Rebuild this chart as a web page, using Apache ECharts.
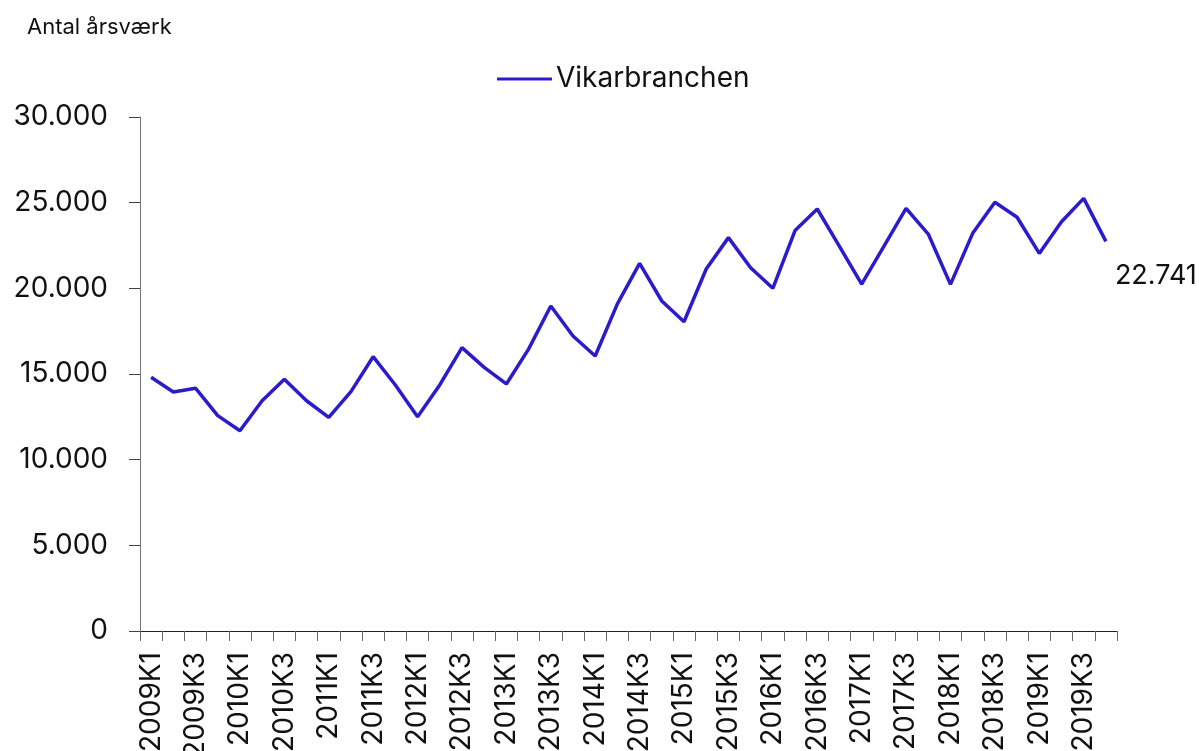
<!DOCTYPE html>
<html>
<head>
<meta charset="utf-8">
<script src="https://cdn.jsdelivr.net/npm/echarts@6/dist/echarts.min.js"></script>
<style>html,body{margin:0;padding:0;background:#fff}#c{width:1199px;height:751px}</style>
</head>
<body>
<div id="c"></div>
<script>
const years = [2009,2010,2011,2012,2013,2014,2015,2016,2017,2018,2019];
const quarters = ['K1','K2','K3','K4'];
const categories = [];
years.forEach(y => quarters.forEach(q => categories.push(y + q)));
const seriesName = 'Vikarbranchen';
const values = [14810, 13950, 14170, 12570, 11690, 13440, 14690, 13440, 12470, 13970, 16010, 14360,
  12510, 14360, 16540, 15390, 14420, 16450, 18970, 17220, 16050, 19090, 21460, 19260,
  18050, 21130, 22960, 21200, 20000, 23370, 24630, 22450, 20250, 22450, 24670, 23170,
  20230, 23210, 25020, 24150, 22040, 23890, 25250, 22741];
const yTitle = 'Antal årsværk';

const fmt = v => String(Math.round(v)).replace(/\B(?=(\d{3})+(?!\d))/g, '.');
const FONT = 'Inter';
const chart = echarts.init(document.getElementById('c'));
chart.setOption({
  backgroundColor: '#fff',
  animation: false,
  title: {
    text: yTitle, left: 27, top: 16, padding: 0,
    textStyle: {fontFamily: FONT, fontSize: 22, fontWeight: 'normal', color: '#111'}
  },
  legend: {
    data: [seriesName], left: 497, top: 65, padding: 0,
    icon: 'rect', itemWidth: 55, itemHeight: 3, itemGap: 10,
    textStyle: {fontFamily: FONT, fontSize: 28, color: '#111', padding: [0, 0, 0, -1]}
  },
  grid: {left: 140, right: 82, top: 117, bottom: 120, containLabel: false, outerBoundsMode: 'none'},
  xAxis: {
    type: 'category', data: categories, boundaryGap: true,
    axisLine: {lineStyle: {color: '#222', width: 1}},
    axisTick: {show: true, length: 10, interval: 0, lineStyle: {color: '#666'}},
    axisLabel: {interval: 1, rotate: 90, margin: 21, fontFamily: FONT, fontSize: 28, color: '#111', hideOverlap: false}
  },
  yAxis: {
    type: 'value', min: 0, max: 30000, interval: 5000,
    splitLine: {show: false},
    axisLine: {show: true, lineStyle: {color: '#777', width: 1}},
    axisTick: {show: true, length: 11, lineStyle: {color: '#444'}},
    axisLabel: {margin: 32, fontFamily: FONT, fontSize: 28, color: '#111', formatter: fmt}
  },
  series: [{
    name: seriesName, type: 'line', data: values,
    showSymbol: false, symbol: 'none',
    lineStyle: {color: '#2B1BCB', width: 3.5},
    itemStyle: {color: '#2B1BCB'},
    endLabel: {
      show: true, formatter: p => fmt(p.value), distance: 9, offset: [0, 35],
      fontFamily: FONT, fontSize: 27, color: '#111'
    }
  }]
});
</script>
</body>
</html>
